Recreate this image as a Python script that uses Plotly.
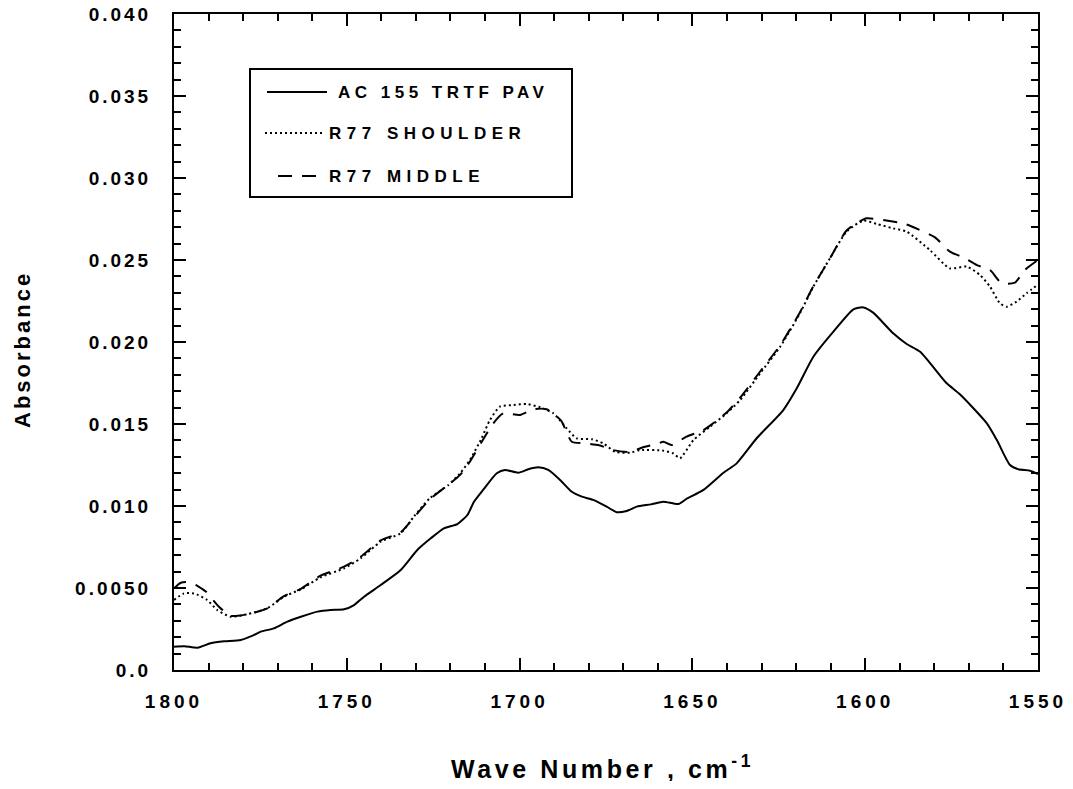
import plotly.graph_objects as go

# ---------------- data ----------------
ac155_wn = [1800, 1797, 1793.2, 1789.4, 1785.5, 1780.7, 1776.9, 1774.9, 1771.1, 1767.2,
            1763.3, 1758.5, 1754.7, 1750.8, 1747.9, 1745.0, 1740.2, 1734.4, 1729.6, 1725.7,
            1721.9, 1718.0, 1715.1, 1713.2, 1710.5, 1706.6, 1704.2, 1700.4, 1697.5, 1694.6,
            1691.7, 1688.3, 1684.9, 1682.0, 1678.7, 1674.8, 1671.9, 1669.0, 1666.1, 1662.0,
            1658.4, 1654.1, 1651.7, 1646.8, 1641.0, 1637.2, 1631.4, 1623.7, 1619.8, 1615.0,
            1609.2, 1603.4, 1600.5, 1597.7, 1591.9, 1588.0, 1584.1, 1576.4, 1572.6, 1564.8,
            1561.9, 1558.1, 1555.7, 1552.3, 1550]
ac155_abs = [0.00142, 0.00145, 0.00136, 0.00163, 0.00175, 0.00183, 0.00213, 0.00234, 0.00254, 0.00295,
             0.00325, 0.00356, 0.00366, 0.00370, 0.00396, 0.00447, 0.00518, 0.00610, 0.00732, 0.00803,
             0.00864, 0.00890, 0.00945, 0.01026, 0.01100, 0.01200, 0.01220, 0.01203, 0.01224, 0.01236,
             0.01220, 0.01159, 0.01087, 0.01057, 0.01037, 0.00996, 0.00962, 0.00970, 0.00996, 0.01010,
             0.01026, 0.01012, 0.01043, 0.01098, 0.01203, 0.01260, 0.01413, 0.01585, 0.01718, 0.01910,
             0.02063, 0.02199, 0.02211, 0.02179, 0.02053, 0.01988, 0.01941, 0.01748, 0.01681, 0.01504,
             0.01402, 0.01250, 0.01224, 0.01215, 0.01195]

shoulder_wn = [1800, 1797.1, 1794.2, 1790.4, 1787.5, 1783.6, 1778.8, 1773.0, 1768.2, 1763.3,
               1757.6, 1750.8, 1746.0, 1740.2, 1734.4, 1730.6, 1726.0, 1720.6, 1717.2, 1714.4,
               1711.0, 1708.6, 1705.7, 1701.8, 1697.9, 1694.1, 1690.2, 1686.4, 1683.5, 1679.1,
               1675.8, 1672.4, 1668.0, 1665.2, 1658.4, 1655.5, 1653.6, 1649.7, 1644.9, 1640.1,
               1636.2, 1630.4, 1624.6, 1618.9, 1615.0, 1610.2, 1605.4, 1600.5, 1596.7, 1591.9,
               1588.0, 1581.3, 1575.5, 1570.6, 1566.8, 1563.9, 1561.0, 1559.1, 1556.2, 1553.3,
               1550]
shoulder_abs = [0.00427, 0.00467, 0.00467, 0.00427, 0.00366, 0.00325, 0.00340, 0.00376, 0.00447, 0.00492,
                0.00565, 0.00620, 0.00681, 0.00782, 0.00834, 0.00935, 0.01047, 0.01128, 0.01200, 0.01280,
                0.01413, 0.01524, 0.01606, 0.01616, 0.01622, 0.01602, 0.01565, 0.01474, 0.01413, 0.01407,
                0.01382, 0.01331, 0.01325, 0.01341, 0.01337, 0.01320, 0.01291, 0.01402, 0.01484, 0.01565,
                0.01646, 0.01809, 0.01971, 0.02175, 0.02337, 0.02510, 0.02673, 0.02740, 0.02720, 0.02693,
                0.02673, 0.02561, 0.02449, 0.02460, 0.02409, 0.02338, 0.02236, 0.02215, 0.02246, 0.02297,
                0.02350]

middle_wn = [1800, 1798.0, 1795.2, 1793.0, 1790.8, 1787.0, 1783.6, 1778.8, 1773.0, 1768.2,
             1763.3, 1757.6, 1750.8, 1746.0, 1740.2, 1734.4, 1730.6, 1726.0, 1720.6, 1717.2,
             1714.4, 1711.0, 1707.6, 1704.7, 1699.9, 1696.0, 1692.2, 1688.0, 1684.9, 1681.0,
             1677.0, 1672.9, 1668.0, 1664.0, 1660.0, 1658.4, 1656.0, 1651.7, 1647.0, 1644.9,
             1640.1, 1636.2, 1630.4, 1624.6, 1618.9, 1615.0, 1610.2, 1605.4, 1602.0, 1599.6,
             1594.8, 1588.5, 1584.6, 1579.8, 1575.5, 1571.6, 1567.7, 1563.9, 1560.5, 1556.7,
             1553.8, 1550]
middle_abs = [0.00498, 0.00532, 0.00535, 0.00510, 0.00478, 0.00386, 0.00330, 0.00340, 0.00376, 0.00450,
              0.00495, 0.00575, 0.00630, 0.00690, 0.00790, 0.00840, 0.00930, 0.01040, 0.01130, 0.01190,
              0.01270, 0.01390, 0.01504, 0.01565, 0.01555, 0.01590, 0.01590, 0.01520, 0.01392, 0.01382,
              0.01370, 0.01341, 0.01330, 0.01360, 0.01380, 0.01392, 0.01372, 0.01423, 0.01460, 0.01490,
              0.01570, 0.01660, 0.01820, 0.01980, 0.02180, 0.02340, 0.02510, 0.02680, 0.02730, 0.02754,
              0.02744, 0.02720, 0.02687, 0.02638, 0.02551, 0.02516, 0.02469, 0.02439, 0.02358, 0.02362,
              0.02439, 0.02500]

series_names = ["AC 155 TRTF PAV", "R77 SHOULDER", "R77 MIDDLE"]
series_dash = ["solid", "2px,3px", "14px,10px"]

x_tickvals = [1800, 1750, 1700, 1650, 1600, 1550]
x_ticktext = ["1800", "1750", "1700", "1650", "1600", "1550"]
y_tickvals = [0.0, 0.005, 0.010, 0.015, 0.020, 0.025, 0.030, 0.035, 0.040]
y_ticktext = ["0.0", "0.0050", "0.010", "0.015", "0.020", "0.025", "0.030", "0.035", "0.040"]

x_title = "Wave Number , cm<sup>-1</sup>"
y_title = "Absorbance"

# ---------------- figure ----------------
FONT = "Liberation Sans, Arial, sans-serif"


def spaced(txt, px):
    return f'<span style="letter-spacing:{px}px">{txt}</span>'


fig = go.Figure()
data = [(ac155_wn, ac155_abs), (shoulder_wn, shoulder_abs), (middle_wn, middle_abs)]
for (xs, ys), name, dash in zip(data, series_names, series_dash):
    fig.add_trace(go.Scatter(x=xs, y=ys, mode="lines", name=name, showlegend=False,
                             line=dict(color="black", width=2, dash=dash, shape="spline",
                                       smoothing=0.6)))

axis_common = dict(showline=True, linecolor="black", linewidth=2, mirror="ticks",
                   ticks="inside", ticklen=12, tickwidth=2, tickcolor="black",
                   showgrid=False, zeroline=False, automargin=False,
                   ticklabeloverflow="allow",
                   tickfont=dict(family=FONT, size=19, color="black", weight="bold"))

fig.update_xaxes(range=[1800, 1550], tickmode="array", tickvals=x_tickvals,
                 ticktext=[spaced(t, 4) for t in x_ticktext],
                 minor=dict(ticks="inside", dtick=10, ticklen=7, tickwidth=2, tickcolor="black"),
                 ticklabelstandoff=13, **axis_common)
fig.update_yaxes(range=[0, 0.040], tickmode="array", tickvals=y_tickvals,
                 ticktext=[spaced(t, 3) for t in y_ticktext],
                 minor=dict(ticks="inside", dtick=0.001, ticklen=7, tickwidth=2, tickcolor="black"),
                 ticklabelstandoff=17, **axis_common)

# page offset (default 8px body margin) taken into account
OFF = 8
L, R, T, B = 174, 1038, 14, 670          # plot area in window pixels
W, H = R - L, B - T
FIG_W, FIG_H = 1073 - OFF, 789 - 2 * OFF


def px(xp):
    return (xp - L) / W


def py(yp):
    return (B - yp) / H


shapes = [dict(type="rect", xref="paper", yref="paper", x0=px(250), x1=px(572),
               y0=py(197), y1=py(69), line=dict(color="black", width=2),
               fillcolor="white", layer="above")]
legend_rows = [(92, 267, 327, 336, 4.5), (133, 265, 322, 327, 5.5), (176, 278, 321, 327, 5.5)]
annotations = []
for (ly, lx0, lx1, tx, sp), name, dash in zip(legend_rows, series_names, series_dash):
    shapes.append(dict(type="line", xref="paper", yref="paper", x0=px(lx0), x1=px(lx1),
                       y0=py(ly), y1=py(ly), line=dict(color="black", width=2, dash=dash),
                       layer="above"))
    annotations.append(dict(xref="paper", yref="paper", x=px(tx), y=py(ly), xanchor="left",
                            yanchor="middle", showarrow=False, text=spaced(name, sp),
                            font=dict(family=FONT, size=17, color="black", weight="bold")))

annotations.append(dict(xref="paper", yref="paper", x=px(602), y=py(767), xanchor="center",
                        yanchor="middle", showarrow=False, text=spaced(x_title, 3.6),
                        font=dict(family=FONT, size=25, color="black", weight="bold")))
annotations.append(dict(xref="paper", yref="paper", x=px(22), y=py(350), xanchor="center",
                        yanchor="middle", showarrow=False, textangle=-90,
                        text=spaced(y_title, 3),
                        font=dict(family=FONT, size=22, color="black", weight="bold")))

fig.update_layout(width=FIG_W, height=FIG_H,
                  margin=dict(l=L - OFF, r=FIG_W + OFF - R, t=T - OFF, b=FIG_H + OFF - B),
                  plot_bgcolor="white", paper_bgcolor="white", shapes=shapes,
                  annotations=annotations, showlegend=False)

fig.write_html("out.html")
